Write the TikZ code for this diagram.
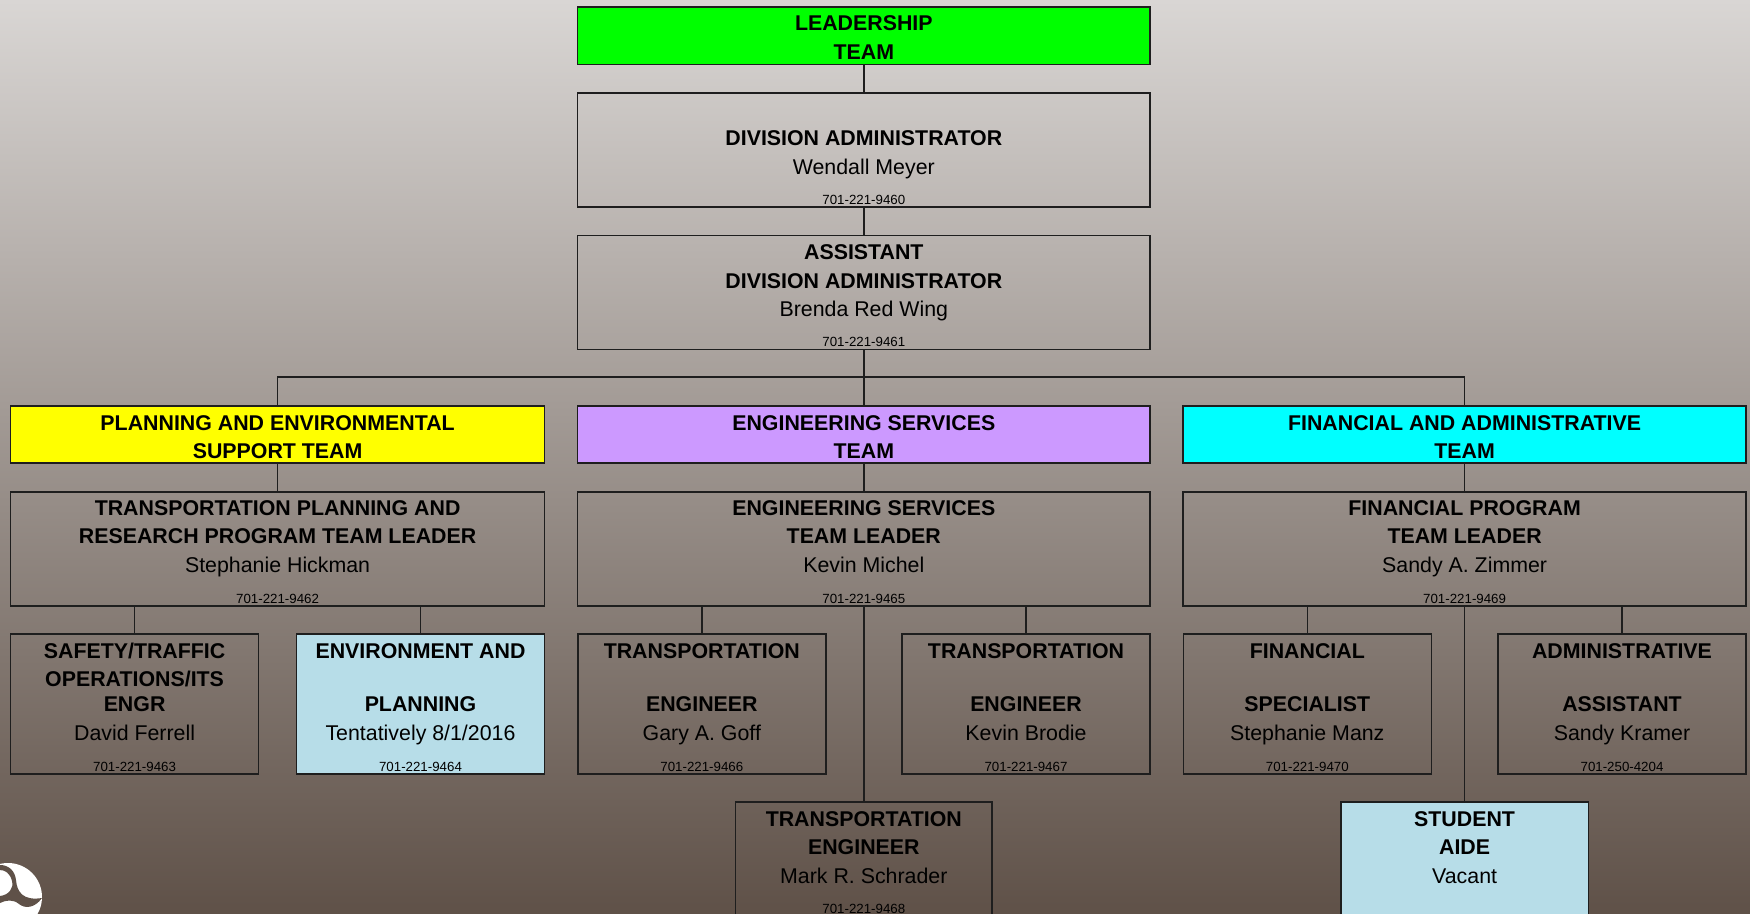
\documentclass[tikz,border=0pt]{standalone}
\usepackage{fontspec}
\setmainfont{Liberation Sans}
\definecolor{bgtop}{HTML}{D9D6D4}
\definecolor{bgmid}{HTML}{948A87}
\definecolor{bgbot}{HTML}{5F5148}
\definecolor{linecol}{HTML}{1E1E1E}
\definecolor{paleblue}{HTML}{B7DDE8}
\definecolor{lilac}{HTML}{CC99FF}
\definecolor{pureyellow}{HTML}{FFFF00}
\definecolor{purecyan}{HTML}{00FFFF}
\definecolor{puregreen}{HTML}{00FF00}
\begin{document}
\begin{tikzpicture}[x=1pt, y=-1pt,
  box/.style={rectangle, draw=linecol, line width=1.6pt, inner sep=0pt, outer sep=0pt},
  conn/.style={draw=linecol, line width=1.4pt},
  txt/.style={anchor=north, align=center, inner sep=0pt, font=\fontsize{21.35}{28.7}\selectfont},
  phone/.style={anchor=base, inner sep=0pt, font=\fontsize{13.3}{15}\selectfont}]
\useasboundingbox (0,0) rectangle (1750,913);
\shade[top color=bgtop, middle color=bgmid, bottom color=bgbot] (0,0) rectangle (1750,913);

\fill[white] (8,897) circle (34);
\fill[bgbot] (0,865) .. controls (9,865) and (15,871) .. (16,880)
  .. controls (17,892) and (23,901) .. (42,898)
  .. controls (35,908) and (25,909) .. (19,904)
  .. controls (13,899) and (6,900) .. (0,903) -- (0,896)
  .. controls (9,895) and (14,888) .. (12,881)
  .. controls (10,873) and (5,870) .. (0,870) -- cycle;

\node[box, minimum width=572.4pt, minimum height=57.6pt, fill=puregreen](lead) at (863.8,35.5) {};
\node[box, minimum width=572.4pt, minimum height=114.3pt](div) at (863.8,149.85) {};
\node[box, minimum width=572.4pt, minimum height=114pt](asst) at (863.8,292.3) {};
\node[box, minimum width=534pt, minimum height=57pt, fill=pureyellow](planteam) at (277.6,434.5) {};
\node[box, minimum width=572.4pt, minimum height=57pt, fill=lilac](engteam) at (863.8,434.5) {};
\node[box, minimum width=562.7pt, minimum height=57pt, fill=purecyan](finteam) at (1464.6,434.5) {};
\node[box, minimum width=534pt, minimum height=114.3pt](planlead) at (277.6,548.85) {};
\node[box, minimum width=572.4pt, minimum height=114.3pt](englead) at (863.8,548.85) {};
\node[box, minimum width=562.7pt, minimum height=114.3pt](finlead) at (1464.6,548.85) {};
\node[box, minimum width=248pt, minimum height=140pt](safety) at (134.6,704) {};
\node[box, minimum width=248pt, minimum height=140pt, fill=paleblue](envir) at (420.5,704) {};
\node[box, minimum width=248pt, minimum height=140pt](goff) at (701.8,704) {};
\node[box, minimum width=248pt, minimum height=140pt](brodie) at (1026,704) {};
\node[box, minimum width=248pt, minimum height=140pt](manz) at (1307.3,704) {};
\node[box, minimum width=248pt, minimum height=140pt](kramer) at (1622,704) {};
\node[box, minimum width=256.5pt, minimum height=114.5pt](schrader) at (863.8,859.25) {};
\node[box, minimum width=247.4pt, minimum height=114.5pt, fill=paleblue](student) at (1464.6,859.25) {};

\coordinate (bus) at (863.8,377);
\draw[conn] (lead) -- (div);
\draw[conn] (div) -- (asst);
\draw[conn] (asst) -- (engteam);
\draw[conn] (planteam) |- (bus) -| (finteam);
\draw[conn] (planteam) -- (planlead);
\draw[conn] (engteam) -- (englead);
\draw[conn] (finteam) -- (finlead);
\draw[conn] (safety.north) -- (safety.north |- planlead.south);
\draw[conn] (envir.north) -- (envir.north |- planlead.south);
\draw[conn] (goff.north) -- (goff.north |- englead.south);
\draw[conn] (brodie.north) -- (brodie.north |- englead.south);
\draw[conn] (manz.north) -- (manz.north |- finlead.south);
\draw[conn] (kramer.north) -- (kramer.north |- finlead.south);
\draw[conn] (englead) -- (schrader);
\draw[conn] (finlead) -- (student);

\node[txt](leadtxt) at ([yshift=-3.8pt]lead.north) {\strut\textbf{LEADERSHIP}\\\textbf{TEAM}};
\node[txt](divtxt) at ([yshift=-3.8pt]div.north) {\strut\\\textbf{DIVISION ADMINISTRATOR}\\Wendall Meyer};
\node[txt](assttxt) at ([yshift=-3.8pt]asst.north) {\strut\textbf{ASSISTANT}\\\textbf{DIVISION ADMINISTRATOR}\\Brenda Red Wing};
\node[txt](plantxt) at ([yshift=-3.8pt]planteam.north) {\strut\textbf{PLANNING AND ENVIRONMENTAL}\\\textbf{SUPPORT TEAM}};
\node[txt](engtxt) at ([yshift=-3.8pt]engteam.north) {\strut\textbf{ENGINEERING SERVICES}\\\textbf{TEAM}};
\node[txt](fintxt) at ([yshift=-3.8pt]finteam.north) {\strut\textbf{FINANCIAL AND ADMINISTRATIVE}\\\textbf{TEAM}};
\node[txt](planleadtxt) at ([yshift=-3.8pt]planlead.north) {\strut\textbf{TRANSPORTATION PLANNING AND}\\[-1pt]\textbf{RESEARCH PROGRAM TEAM LEADER}\\Stephanie Hickman};
\node[txt](engleadtxt) at ([yshift=-3.8pt]englead.north) {\strut\textbf{ENGINEERING SERVICES}\\[-1pt]\textbf{TEAM LEADER}\\Kevin Michel};
\node[txt](finleadtxt) at ([yshift=-3.8pt]finlead.north) {\strut\textbf{FINANCIAL PROGRAM}\\[-1pt]\textbf{TEAM LEADER}\\Sandy A. Zimmer};
\node[txt](safetytxt) at ([yshift=-3.8pt]safety.north) {\strut\textbf{SAFETY/TRAFFIC}\\\textbf{OPERATIONS/ITS}\\[-4pt]\textbf{ENGR}\\David Ferrell};
\node[txt](envirtxt) at ([yshift=-3.8pt]envir.north) {\strut\textbf{ENVIRONMENT AND}\\[25pt]\textbf{PLANNING}\\Tentatively 8/1/2016};
\node[txt](gofftxt) at ([yshift=-3.8pt]goff.north) {\strut\textbf{TRANSPORTATION}\\[25pt]\textbf{ENGINEER}\\Gary A. Goff};
\node[txt](brodietxt) at ([yshift=-3.8pt]brodie.north) {\strut\textbf{TRANSPORTATION}\\[25pt]\textbf{ENGINEER}\\Kevin Brodie};
\node[txt](manztxt) at ([yshift=-3.8pt]manz.north) {\strut\textbf{FINANCIAL}\\[25pt]\textbf{SPECIALIST}\\Stephanie Manz};
\node[txt](kramertxt) at ([yshift=-3.8pt]kramer.north) {\strut\textbf{ADMINISTRATIVE}\\[25pt]\textbf{ASSISTANT}\\Sandy Kramer};
\node[txt](schradertxt) at ([yshift=-3.8pt]schrader.north) {\strut\textbf{TRANSPORTATION}\\\textbf{ENGINEER}\\Mark R. Schrader};
\node[txt](studenttxt) at ([yshift=-3.8pt]student.north) {\strut\textbf{STUDENT}\\\textbf{AIDE}\\Vacant};

\node[phone](divph) at ([yshift=3pt]div.south) {701-221-9460};
\node[phone](asstph) at ([yshift=3pt]asst.south) {701-221-9461};
\node[phone](planph) at ([yshift=3pt]planlead.south) {701-221-9462};
\node[phone](engph) at ([yshift=3pt]englead.south) {701-221-9465};
\node[phone](finph) at ([yshift=3pt]finlead.south) {701-221-9469};
\node[phone](safetyph) at ([yshift=3pt]safety.south) {701-221-9463};
\node[phone](envirph) at ([yshift=3pt]envir.south) {701-221-9464};
\node[phone](goffph) at ([yshift=3pt]goff.south) {701-221-9466};
\node[phone](brodieph) at ([yshift=3pt]brodie.south) {701-221-9467};
\node[phone](manzph) at ([yshift=3pt]manz.south) {701-221-9470};
\node[phone](kramerph) at ([yshift=3pt]kramer.south) {701-250-4204};
\node[phone](schraderph) at ([yshift=3pt]schrader.south) {701-221-9468};

\end{tikzpicture}
\end{document}
